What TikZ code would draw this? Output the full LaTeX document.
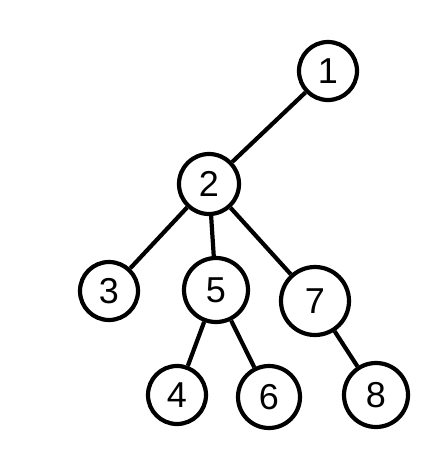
\documentclass[tikz,border=0pt]{standalone}
\usepackage{fontspec}
\setmainfont{Liberation Sans}
\begin{document}
\begin{tikzpicture}[x=1pt,y=-1pt,
  vert/.style={circle,draw=black,line width=4.2pt,minimum size=#1,inner sep=0pt,font=\fontsize{36}{36}\selectfont},
  vert/.default=58pt,
  edge/.style={line width=4.2pt}]
\useasboundingbox (0,0) rectangle (421,463);
\node[vert=58pt] (n1) at (328,71) {1};
\node[vert=60pt] (n2) at (209,184) {2};
\node[vert=58pt] (n3) at (109,291) {3};
\node[vert=64pt] (n5) at (216,290) {5};
\node[vert=68pt] (n7) at (315,301) {7};
\node[vert=58pt] (n4) at (177,395) {4};
\node[vert=62pt] (n6) at (269,397) {6};
\node[vert=64pt] (n8) at (376,395) {8};
\draw[edge] (n1) -- (n2);
\draw[edge] (n2) -- (n3);
\draw[edge] (n2) -- (n5);
\draw[edge] (n2) -- (n7);
\draw[edge] (n5) -- (n4);
\draw[edge] (n5) -- (n6);
\draw[edge] (n7) -- (n8);
\end{tikzpicture}
\end{document}
